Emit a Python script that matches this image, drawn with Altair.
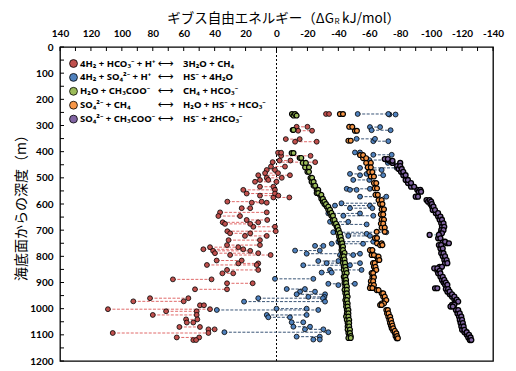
import altair as alt
import pandas as pd

# ---------------- data (kJ/mol, positive = left) ----------------
red_depth = [256, 305, 320, 352, 362, 404, 416, 434, 440, 457, 470, 482, 490, 500, 508, 515, 534, 546, 560, 568,
             575, 591, 595, 616, 632, 646, 661, 670, 676, 687, 704, 712, 722, 738, 757, 765, 773, 779, 788, 795,
             816, 827, 833, 852, 865, 888, 903, 926, 960, 972, 987, 1002, 1010, 1024, 1041, 1053, 1070, 1079, 1093, 1110, 1120]
red_a = [-32, -13, -14, -6, -12, -1, -3, -2, 2.5, 3.6, 6.3, 7.4, 11.8, 6.3, 10.7, 13.9, 10.7, 21.5, 19.3, 10.7,
         2, 31.8, 16, 22.5, 36.5, 37.6, 19.3, 34.8, 33.3, 15, 31.8, 30, 20.4, 31, 32, 43, 47.3, 41, 39.8, 30,
         38.7, 24.7, 45, 32, 35, 67, 32, 52.7, 81.8, 92.6, 49.5, 109, 71.4, 80, 58.5, 58, 62.8, 44, 105.9, 64.5, 53.8]
red_b = [-34, -20, -23, -15, -26, -3, -22, -9, -25, -5.5, 1, -1, -8.7, -3.4, 5.3, 0, 2, 1, 1, -1.2,
         -8.3, 9.6, 6.3, 17, 6.3, 23.6, 6, 11.8, 17, 1, 0.5, 17, 6.3, 10.7, 10.7, 24.7, 21.5, 17, 11.8, 3.8,
         22.5, 11.8, 12.8, 11.8, 28, 42, 15.4, 32, 57, 60, 46.9, 43, 51.6, 51.6, 51.2, 53.8, 49.5, 40, 44, 50, 52]

blue_depth = [256, 258, 306, 318, 351, 360, 403, 412, 432, 443, 462, 470, 485, 490, 508, 542, 546, 572, 597, 606,
              616, 636, 645, 668, 678, 708, 714, 722, 744, 752, 760, 778, 790, 795, 818, 826, 834, 852, 862, 886,
              905, 910, 925, 935, 945, 955, 960, 973, 1000, 1005, 1024, 1033, 1052, 1069, 1079, 1090, 1107, 1118]
blue_a = [-52.5, -73, -60.4, -61.5, -51.8, -62.6, -50.7, -62.6, -60, -72, -54, -60, -47.5, -54, -49.6, -45.4, -47.5, -54, -42, -37.8,
          -47.5, -33.5, -43.2, -34.6, -38.9, -36.7, -41, -46.4, -40, -35.7, -24.9, -12, -19.5, -41, -27, -32.4, -17.3, -34.6, -29.2, 1,
          -33.5, -40, -6.6, -15.2, -13, -20.6, 11.8, 21, 0, 38.6, 6.3, 5.3, -9.8, -10.9, -18.4, 33.7, -13, -23.8]
blue_b = [-72.3, -77, -67, -73.8, -63.7, -72.3, -54, -74.5, -71, -80, -77.7, -68, -58.3, -69, -60, -60.4, -51.8, -71, -67, -60.4,
          -62, -54, -62.6, -46.4, -58.3, -71, -58.3, -60.4, -62.6, -56, -30.3, -28, -54, -49.6, -40, -54, -47.5, -55, -35.7, -23.8,
          -50.7, -45, -18.4, -24.9, -31.4, -31, -30, -31.4, -19.5, -27, -19.5, -8.7, -17.3, -21.7, -30.3, -33.5, -28, -28]

green_depth = [256, 262, 317, 405, 424, 443, 460, 477, 500, 515, 530, 546, 558, 565, 580, 591, 600, 610, 622, 634,
               645, 661, 675, 687, 700, 711, 725, 738, 750, 763, 776, 787, 800, 812, 825, 840, 852, 864, 878, 890,
               902, 915, 928, 941, 954, 967, 980, 992, 1005, 1018, 1030, 1043, 1055, 1068, 1080, 1093, 1105, 1112]
green_a = [-10, -11, -10.5, -9.8, -15, -17, -18.5, -20, -22, -22.7, -24, -26, -26, -28, -29, -30, -31, -32.4, -33.5, -34.6,
           -35.5, -36.5, -37.5, -38.9, -39.5, -39.8, -40.5, -41, -41.5, -42.2, -42, -43, -42.5, -43, -43, -43.5, -43.5, -44, -43.5, -44,
           -44, -44.5, -44, -44.5, -45, -44.5, -45, -45, -45.5, -45.5, -45, -45.5, -46, -46, -46, -46.5, -47, -46.5]
green_b = [-12, -13, -11, -11, -16, -19, -21, -21, -23, -24, -25, -27, -27, -29, -30, -31, -32, -33.5, -34.6, -35.5,
           -36.5, -37.5, -38.5, -39.5, -40.2, -41, -41.5, -42, -42.5, -43, -43, -44, -43.5, -44, -44.3, -44.5, -45, -45.4, -44.5, -45,
           -45, -45.5, -45.5, -45.5, -46, -45.5, -46, -46, -46.5, -46.5, -46.5, -47, -47, -47, -47.5, -47.5, -48, -48]

orange_depth = [256, 305, 320, 358, 413, 425, 443, 460, 478, 495, 520, 540, 565, 585, 600, 620, 640, 660, 675, 690,
                706, 730, 750, 757, 776, 795, 801, 814, 826, 840, 852, 864, 880, 895, 910, 921, 929, 941, 954, 967,
                980, 986, 1005, 1018, 1031, 1043, 1055, 1065, 1075, 1085, 1094, 1105, 1113]
orange_a = [-41, -47, -50.7, -46.5, -54, -56, -58, -59, -60, -61, -63, -63.5, -64, -66, -67, -68, -67.5, -68, -67.5, -68,
            -64.8, -63.7, -65, -67, -60.4, -61.5, -64.8, -65.6, -62.4, -63, -63.7, -61.5, -62, -61, -61, -60.4, -64.8, -68, -69, -70,
            -68, -67, -71, -71.5, -72.3, -73, -73.4, -74, -74.5, -75.5, -76.6, -77, -77.7]
orange_b = [-43, -49, -52, -48, -56, -58, -61, -61, -62, -63, -64.5, -65, -65.5, -68, -68.5, -69.5, -69, -69.5, -69, -70,
            -70, -65, -68, -68.5, -62, -63, -66, -66.5, -63.5, -64, -64.5, -62.5, -63, -62.5, -63, -62, -66, -69, -70, -71,
            -69.5, -68, -72, -72.5, -73.5, -74, -74.5, -75, -75.5, -76.5, -77.5, -78, -78.5]

purple_depth = [428, 435, 443, 455, 466, 477, 490, 508, 520, 534, 546, 553, 572, 585, 591, 600, 610, 623, 635, 648,
                660, 674, 687, 700, 712, 718, 731, 744, 750, 757, 770, 788, 800, 814, 826, 840, 846, 855, 865, 878,
                890, 900, 909, 922, 925, 935, 945, 954, 965, 973, 985, 992, 1005, 1018, 1030, 1043, 1055, 1068, 1081, 1090,
                1100, 1110, 1120]
purple_a = [-70, -73, -75, -78, -79, -80.5, -82, -83.5, -85, -87, -91, -92, -90, -97, -98, -99.5, -100.5, -101, -103, -104.5,
            -105.5, -106.5, -107, -106.5, -106, -99, -104.5, -107.5, -110, -105, -106, -106.5, -107.5, -108.5, -109, -105.5, -102, -104, -104.5, -106,
            -107, -108, -109, -102.5, -109.5, -110.5, -112, -113.5, -115, -116, -113.5, -112.5, -116, -117, -118, -118.5, -119, -119.5, -120, -121.5,
            -123, -124, -125]
purple_b = [-72, -75, -80, -80, -81, -82, -83.5, -85, -87, -89, -93, -93.5, -91.5, -99, -100, -100.5, -101.5, -102.5, -104.5, -106,
            -107, -108, -108.5, -108, -107, -105, -106, -109, -111.5, -106.5, -107.5, -108, -109, -110, -110.5, -107, -104, -105.5, -106, -107.5,
            -108.5, -109.5, -110.5, -104, -111, -112, -113.5, -115, -116.5, -117.5, -115, -114, -117.5, -118.5, -119.5, -120, -120.5, -121, -121.5, -123,
            -124.5, -125.5, -126]

x_labels = [140, 120, 100, 80, 60, 40, 20, 0, -20, -40, -60, -80, -100, -120, -140]
y_labels = [0, 100, 200, 300, 400, 500, 600, 700, 800, 900, 1000, 1100, 1200]
x_minor = list(range(-140, 141, 10))
y_minor = list(range(0, 1201, 50))

legend_left = ["4H₂ + HCO₃⁻ + H⁺", "4H₂ + SO₄²⁻ + H⁺", "H₂O + CH₃COO⁻", "SO₄²⁻ + CH₄", "SO₄²⁻ + CH₃COO⁻"]
legend_right = ["3H₂O + CH₄", "HS⁻ + 4H₂O", "CH₄ + HCO₃⁻", "H₂O + HS⁻ + HCO₃⁻", "HS⁻ + 2HCO₃⁻"]
fills = ["#C0504D", "#4F81BD", "#9BBB59", "#F79646", "#8064A2"]
line_colors = ["#E06A6A", "#3A5577", "#6F8F3A", "#8A7A60", "#6FA3A8"]
stroke_widths = [0.8, 0.8, 1.2, 1.2, 1.3]

series = [
    (red_depth, red_a, red_b),
    (blue_depth, blue_a, blue_b),
    (green_depth, green_a, green_b),
    (orange_depth, orange_a, orange_b),
    (purple_depth, purple_a, purple_b),
]

# ---------------- scales / axes ----------------
xs = alt.Scale(domain=[-140, 140], reverse=True, nice=False, zero=False)
ys = alt.Scale(domain=[0, 1200], reverse=True, nice=False, zero=False)
xaxis = alt.Axis(orient="top", values=x_labels, labelExpr="'' + datum.value", title=None, grid=False,
                 ticks=False, tickSize=0, domain=False, labelPadding=9, labelFlush=False, labelOverlap=False)
yaxis = alt.Axis(values=y_labels, labelExpr="'' + datum.value", title="海底面からの深度（m）", grid=False,
                 ticks=False, tickSize=0, domain=False, labelPadding=7, titlePadding=1, labelFlush=False,
                 labelOverlap=False, titleFont="Noto Sans CJK JP", titleFontSize=14, titleFontWeight="normal",
                 titleColor="black")


def X(f):
    return alt.X(f, type="quantitative", scale=xs, axis=xaxis)


def Y(f):
    return alt.Y(f, type="quantitative", scale=ys, axis=yaxis)


dummy = pd.DataFrame({"z": [0]})
layers = []

# zero line
layers.append(alt.Chart(dummy).mark_rule(color="black", strokeDash=[2, 2], strokeWidth=1).encode(x=X("z")))

for (depth, a, b), fill, lc, sw in zip(series, fills, line_colors, stroke_widths):
    df = pd.DataFrame({"depth": depth, "a": a, "b": b})
    long = pd.concat([
        pd.DataFrame({"depth": depth, "value": a}),
        pd.DataFrame({"depth": depth, "value": b}),
    ])
    layers.append(alt.Chart(df).mark_rule(color=lc, strokeDash=[3, 1.5], strokeWidth=1).encode(
        x=X("a"), x2="b", y=Y("depth")))
    layers.append(alt.Chart(long).mark_circle(fill=fill, stroke="black", strokeWidth=sw, size=24, opacity=1,
                                              fillOpacity=1).encode(x=X("value"), y=Y("depth")))

# inside ticks
layers.append(alt.Chart(pd.DataFrame({"t": x_minor})).mark_rule(color="black", strokeWidth=1).encode(
    x=X("t"), y=alt.value(0), y2=alt.value(4)))
layers.append(alt.Chart(pd.DataFrame({"t": y_minor})).mark_rule(color="black", strokeWidth=1).encode(
    y=Y("t"), x=alt.value(0), x2=alt.value(4)))

# legend
for i in range(5):
    yy = 16.5 + 13.9 * i
    layers.append(alt.Chart(dummy).mark_circle(fill=fills[i], stroke="black", strokeWidth=0.8, size=62, opacity=1,
                                               fillOpacity=1).encode(x=alt.value(13.5), y=alt.value(yy)))
    layers.append(alt.Chart(dummy).mark_text(text=legend_left[i], align="left", baseline="middle", font="Noto Sans",
                                             fontSize=9.5, fontWeight="bold", color="black").encode(
        x=alt.value(20), y=alt.value(yy)))
    layers.append(alt.Chart(dummy).mark_text(text="⟷", align="center", baseline="middle", font="DejaVu Sans",
                                             fontSize=11, color="black").encode(x=alt.value(106), y=alt.value(yy)))
    layers.append(alt.Chart(dummy).mark_text(text=legend_right[i], align="left", baseline="middle", font="Noto Sans",
                                             fontSize=9.5, fontWeight="bold", color="black").encode(
        x=alt.value(123), y=alt.value(yy)))

# top title with subscript
layers.append(alt.Chart(dummy).mark_text(text="ギブス自由エネルギー（ΔG", align="right", baseline="middle",
                                         font="Noto Sans CJK JP", fontSize=13.5, color="black").encode(
    x=alt.value(274), y=alt.value(-28)))
layers.append(alt.Chart(dummy).mark_text(text="R", align="left", baseline="middle",
                                         font="Noto Sans CJK JP", fontSize=8, color="black").encode(
    x=alt.value(274.5), y=alt.value(-25)))
layers.append(alt.Chart(dummy).mark_text(text="kJ/mol）", align="left", baseline="middle",
                                         font="Noto Sans CJK JP", fontSize=13.5, color="black").encode(
    x=alt.value(282), y=alt.value(-28)))

chart = alt.layer(*layers).properties(
    width=433, height=314,
    autosize=alt.AutoSizeParams(type="none"),
    padding={"left": 52, "top": 39, "right": 15, "bottom": 8},
    background="white",
).configure_view(stroke="black", strokeWidth=1.3).configure_axis(
    labelFont="Lato", labelFontWeight="bold", labelFontSize=10, labelColor="black"
)

chart.save("out.html", embed_options={"renderer": "svg", "actions": False})
